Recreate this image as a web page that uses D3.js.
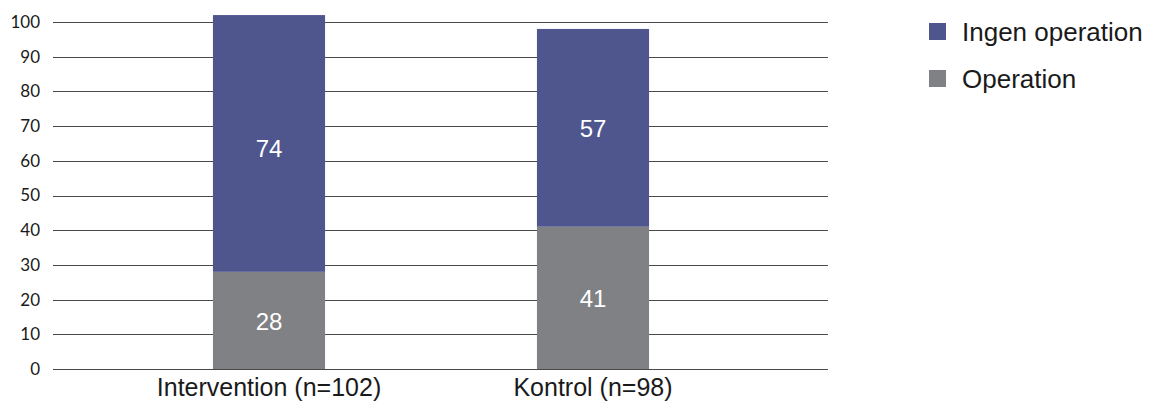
<!DOCTYPE html>
<html>
<head>
<meta charset="utf-8">
<script src="https://cdn.jsdelivr.net/npm/d3@7"></script>
<style>
  html, body { margin: 0; padding: 0; background: #fff; }
  svg { display: block; }
</style>
</head>
<body>
<div id="chart"></div>
<script>
// ---- data ----
const CATEGORIES = ['Intervention (n=102)', 'Kontrol (n=98)'];
const OPERATION = [28, 41];
const INGEN_OPERATION = [74, 57];
const SERIES = ['Operation', 'Ingen operation'];
const Y_TICKS = [0, 10, 20, 30, 40, 50, 60, 70, 80, 90, 100];

const COLORS = { 'Operation': '#808185', 'Ingen operation': '#4f568e' };

const W = 1149, H = 403;
const svg = d3.select('#chart').append('svg')
  .attr('width', W).attr('height', H);

const rows = CATEGORIES.map((c, i) => ({
  cat: c, 'Operation': OPERATION[i], 'Ingen operation': INGEN_OPERATION[i]
}));
const stacked = d3.stack().keys(SERIES)(rows);

const y = d3.scaleLinear().domain([0, 100]).range([369, 22]);
const x = d3.scaleBand().domain(CATEGORIES).range([107, 755])
  .paddingInner(0.654).paddingOuter(0.327);
const gridX0 = 53, gridX1 = 828;

// gridlines
svg.append('g').selectAll('line')
  .data(Y_TICKS).join('line')
  .attr('x1', gridX0).attr('x2', gridX1)
  .attr('y1', d => Math.round(y(d)) + 0.5).attr('y2', d => Math.round(y(d)) + 0.5)
  .attr('stroke', '#4a4a4a').attr('stroke-width', 1);

// y tick labels
svg.append('g').attr('transform', 'translate(40,0)')
  .call(d3.axisLeft(y).tickValues(Y_TICKS).tickSize(0).tickPadding(0))
  .call(g => g.select('.domain').remove())
  .attr('font-family', 'Lato, "Noto Sans", sans-serif')
  .attr('font-size', 17)
  .call(g => g.selectAll('text').attr('fill', '#1a1a1a'));

// bars
const layer = svg.append('g').selectAll('g')
  .data(stacked).join('g')
  .attr('fill', d => COLORS[d.key]);
layer.selectAll('rect')
  .data(d => d).join('rect')
  .attr('x', d => x(d.data.cat))
  .attr('width', x.bandwidth())
  .attr('y', d => y(d[1]))
  .attr('height', d => y(d[0]) - y(d[1]));

// value labels (centred on the part of the segment inside the 0–100 axis)
svg.append('g').selectAll('g')
  .data(stacked).join('g')
  .selectAll('text')
  .data(d => d).join('text')
  .attr('x', d => x(d.data.cat) + x.bandwidth() / 2)
  .attr('y', d => y((d[0] + Math.min(d[1], 100)) / 2))
  .attr('dy', '0.4em')
  .attr('text-anchor', 'middle')
  .attr('font-family', '"Liberation Sans", Arial, sans-serif')
  .attr('font-size', 24)
  .attr('fill', '#fff')
  .text(d => d[1] - d[0]);

// category axis
svg.append('g').attr('transform', 'translate(0,369)')
  .call(d3.axisBottom(x).tickSize(0).tickPadding(9))
  .call(g => g.select('.domain').remove())
  .attr('font-family', '"Liberation Sans", Arial, sans-serif')
  .attr('font-size', 25)
  .call(g => g.selectAll('text').attr('fill', '#1a1a1a'));

// legend
const LEGEND = ['Ingen operation', 'Operation'];
const lg = svg.append('g').selectAll('g')
  .data(LEGEND).join('g')
  .attr('transform', (d, i) => `translate(929,${23 + i * 47})`);
lg.append('rect').attr('width', 17).attr('height', 17)
  .attr('fill', d => COLORS[d]);
lg.append('text').attr('x', 33).attr('y', 18)
  .attr('font-family', '"Liberation Sans", Arial, sans-serif')
  .attr('font-size', 26).attr('fill', '#1a1a1a')
  .text(d => d);
</script>
</body>
</html>
